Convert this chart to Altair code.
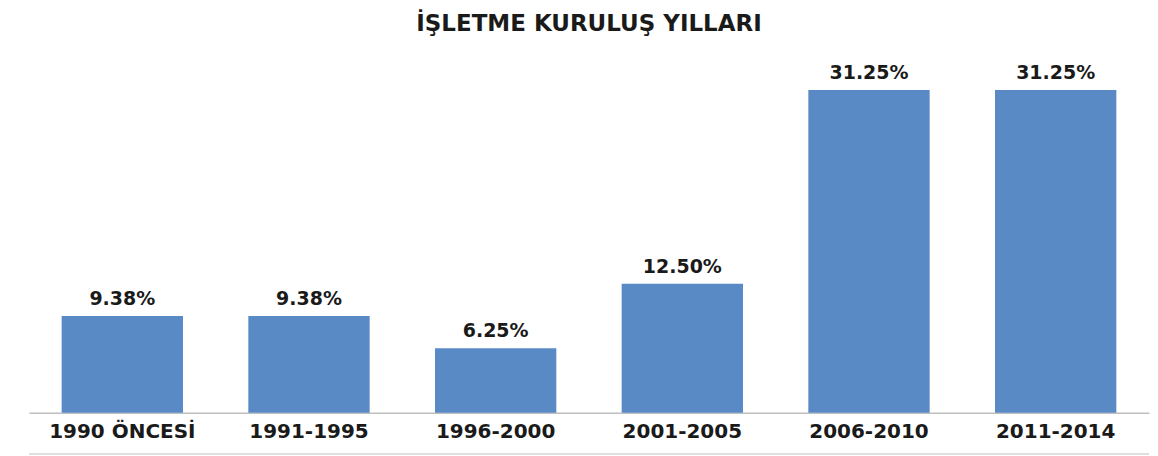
import altair as alt
import pandas as pd

categories = ["1990 ÖNCESİ", "1991-1995", "1996-2000", "2001-2005", "2006-2010", "2011-2014"]
values = [9.38, 9.38, 6.25, 12.50, 31.25, 31.25]
labels = ["9.38%", "9.38%", "6.25%", "12.50%", "31.25%", "31.25%"]

df = pd.DataFrame({"cat": categories, "val": values, "lbl": labels})

FONT = "DejaVu Sans"

x = alt.X("cat:N", sort=categories, title=None,
          scale=alt.Scale(paddingInner=0.35, paddingOuter=0.175),
          axis=alt.Axis(labelAngle=0, labelFont=FONT, labelFontWeight="bold",
                        labelFontSize=20, labelColor="#1a1a1a", ticks=False,
                        domainColor="#BFBFBF", domainWidth=1.5, labelPadding=9))
y = alt.Y("val:Q", title=None, scale=alt.Scale(domain=[0, 35], nice=False),
          axis=None)

bars = alt.Chart(df).mark_bar(color="#5A8AC6").encode(x=x, y=y)
text = alt.Chart(df).mark_text(font=FONT, fontWeight="bold", fontSize=19,
                               color="#1a1a1a", baseline="alphabetic", dy=-11).encode(
    x=x, y=y, text="lbl:N")
bottom_line = alt.Chart(df).mark_rule(color="#DDDDDD", strokeWidth=1).encode(
    x=alt.value(0), x2=alt.value(1121), y=alt.value(403))

chart = (bars + text + bottom_line).properties(
    width=1121, height=362,
    title=alt.TitleParams("İŞLETME KURULUŞ YILLARI", font=FONT, fontWeight="bold",
                          fontSize=23, color="#1a1a1a", anchor="middle", offset=15),
    padding={"left": 20, "top": 5, "right": 0, "bottom": 0},
).configure_view(stroke=None)

chart.save("out.html", embed_options={"renderer": "svg", "actions": False})
